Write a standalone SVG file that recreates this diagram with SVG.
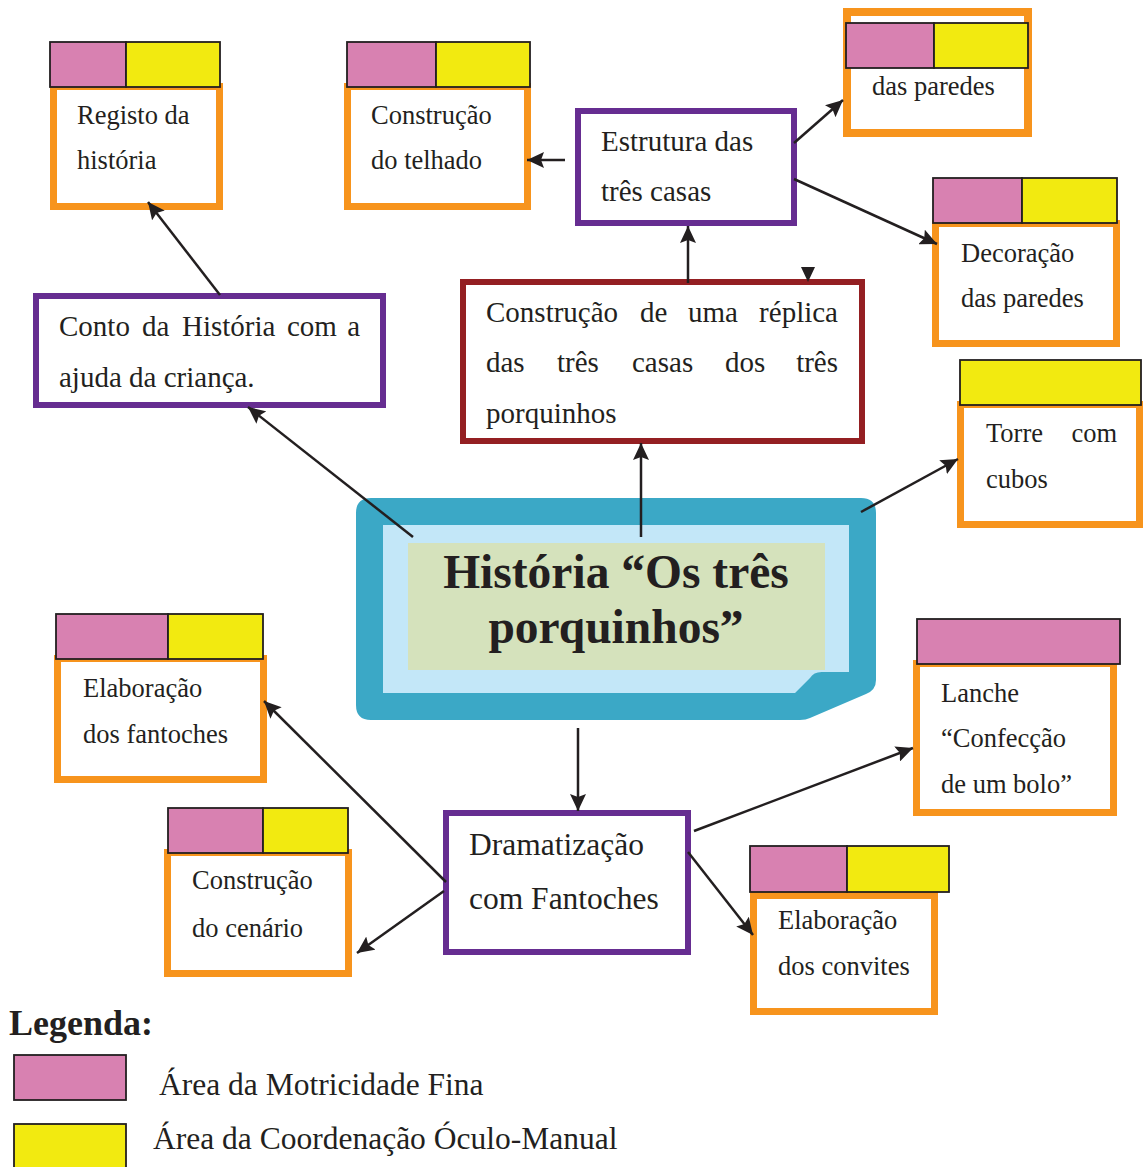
<svg xmlns="http://www.w3.org/2000/svg" width="1143" height="1167" viewBox="0 0 1143 1167">
<defs>
<style>
.t{font-family:"Liberation Serif","Times New Roman",serif;fill:#231F20;}
.s26{font-size:26.5px;}
.s29{font-size:29px;}
.s31{font-size:31.5px;}
.org{fill:#FFFFFF;stroke:#F7941D;stroke-width:7;}
.pur{fill:#FFFFFF;stroke:#662D91;stroke-width:6;}
.red{fill:#FFFFFF;stroke:#941F22;stroke-width:6;}
.pk{fill:#D881B1;stroke:#231F20;stroke-width:1.8;}
.yl{fill:#F2EA10;stroke:#231F20;stroke-width:1.8;}
.ln{stroke:#231F20;stroke-width:2.5;fill:none;marker-end:url(#ah);}
</style>
<marker id="ah" markerUnits="userSpaceOnUse" markerWidth="18" markerHeight="16" refX="17" refY="8" orient="auto">
<path d="M0,0 L17,8 L0,16 L3,8 Z" fill="#231F20"/>
</marker>
</defs>
<rect width="1143" height="1167" fill="#FFFFFF"/>

<g id="registo">
<rect class="org" x="53.5" y="86.5" width="166" height="120"/>
<rect class="pk" x="50" y="42" width="76" height="45"/>
<rect class="yl" x="126" y="42" width="94" height="45"/>
<text class="t s26" x="77" y="124">Registo da</text>
<text class="t s26" x="77" y="169">história</text>
</g>

<g id="telhado">
<rect class="org" x="347.5" y="86.5" width="180" height="120"/>
<rect class="pk" x="347" y="42" width="89" height="45"/>
<rect class="yl" x="436" y="42" width="94" height="45"/>
<text class="t s26" x="371" y="124">Construção</text>
<text class="t s26" x="371" y="169">do telhado</text>
</g>

<g id="paredes-top">
<rect class="org" x="847" y="12" width="181" height="121" style="stroke-width:8"/>
<rect class="pk" x="846" y="23" width="88" height="45"/>
<rect class="yl" x="934" y="23" width="94" height="45"/>
<text class="t s26" x="872" y="95">das paredes</text>
</g>

<g id="estrutura">
<rect class="pur" x="578" y="111" width="216" height="112"/>
<text class="t s29" x="601" y="151">Estrutura das</text>
<text class="t s29" x="601" y="201">três casas</text>
</g>

<g id="decoracao">
<rect class="org" x="935.5" y="223.5" width="181" height="120"/>
<rect class="pk" x="933" y="178" width="89" height="45"/>
<rect class="yl" x="1022" y="178" width="95" height="45"/>
<text class="t s26" x="961" y="262">Decoração</text>
<text class="t s26" x="961" y="307">das paredes</text>
</g>

<g id="conto">
<rect class="pur" x="36" y="296" width="347" height="109"/>
<text class="t s29" y="336"><tspan x="59">Conto</tspan><tspan x="142">da</tspan><tspan x="182">História</tspan><tspan x="287">com</tspan></text>
<text class="t s29" x="360" y="336" text-anchor="end">a</text>
<text class="t s29" x="59" y="387">ajuda da criança.</text>
</g>

<g id="replica">
<rect class="red" x="463" y="282" width="399" height="159"/>
<text class="t s29" y="322"><tspan x="486">Construção</tspan><tspan x="640">de</tspan><tspan x="688">uma</tspan></text>
<text class="t s29" x="838" y="322" text-anchor="end">réplica</text>
<text class="t s29" y="372"><tspan x="486">das</tspan><tspan x="557">três</tspan><tspan x="632">casas</tspan><tspan x="725">dos</tspan></text>
<text class="t s29" x="838" y="372" text-anchor="end">três</text>
<text class="t s29" x="486" y="423">porquinhos</text>
</g>

<g id="torre">
<rect class="org" x="960.5" y="404.5" width="179" height="120"/>
<rect class="yl" x="960" y="360" width="181" height="45"/>
<text class="t s26" x="986" y="442">Torre</text>
<text class="t s26" x="1117" y="442" text-anchor="end">com</text>
<text class="t s26" x="986" y="488">cubos</text>
</g>

<g id="historia">
<path d="M371,498 H861 Q876,498 876,513 V680 Q876,690 866,694 L810,718 Q806,720 800,720 H371 Q356,720 356,705 V513 Q356,498 371,498 Z" fill="#3BA8C6"/>
<path d="M383,525 H849 V672 H824 Q814,671 810,678 L795,693 H383 Z" fill="#C3E7F8"/>
<rect x="408" y="543" width="417" height="127" fill="#D5E2BC"/>
<text class="t" x="616" y="588" text-anchor="middle" style="font-size:47.5px;font-weight:bold">História “Os três</text>
<text class="t" x="616" y="643" text-anchor="middle" style="font-size:47.5px;font-weight:bold">porquinhos”</text>
</g>

<g id="fantoches">
<rect class="org" x="57.5" y="658.5" width="206" height="121"/>
<rect class="pk" x="56" y="614" width="112" height="45"/>
<rect class="yl" x="168" y="614" width="95" height="45"/>
<text class="t s26" x="83" y="697">Elaboração</text>
<text class="t s26" x="83" y="743">dos fantoches</text>
</g>

<g id="lanche">
<rect class="org" x="916.5" y="663.5" width="197" height="149"/>
<rect class="pk" x="917" y="619" width="203" height="45"/>
<text class="t s26" x="941" y="702">Lanche</text>
<text class="t s26" x="941" y="747">“Confecção</text>
<text class="t s26" x="941" y="793">de um bolo”</text>
</g>

<g id="dramatizacao">
<rect class="pur" x="446" y="813" width="242" height="139"/>
<text class="t s31" x="469" y="855">Dramatização</text>
<text class="t s31" x="469" y="909">com Fantoches</text>
</g>

<g id="cenario">
<rect class="org" x="167.5" y="852.5" width="181" height="121"/>
<rect class="pk" x="168" y="808" width="95" height="45"/>
<rect class="yl" x="263" y="808" width="85" height="45"/>
<text class="t s26" x="192" y="889">Construção</text>
<text class="t s26" x="192" y="937">do cenário</text>
</g>

<g id="convites">
<rect class="org" x="753.5" y="895.5" width="181" height="116"/>
<rect class="pk" x="750" y="846" width="97" height="46"/>
<rect class="yl" x="847" y="846" width="102" height="46"/>
<text class="t s26" x="778" y="929">Elaboração</text>
<text class="t s26" x="778" y="975">dos convites</text>
</g>

<g id="legenda">
<text class="t" x="9" y="1035" style="font-size:36px;font-weight:bold">Legenda:</text>
<rect class="pk" x="14" y="1055" width="112" height="45"/>
<text class="t s31" x="159" y="1095">Área da Motricidade Fina</text>
<rect class="yl" x="14" y="1124" width="112" height="48"/>
<text class="t s31" x="153" y="1149">Área da Coordenação Óculo-Manual</text>
</g>

<g id="connectors">
<line class="ln" x1="220" y1="295" x2="148" y2="202"/>
<line class="ln" x1="565" y1="160" x2="527" y2="160"/>
<line class="ln" x1="688" y1="283" x2="688" y2="226"/>
<line class="ln" x1="794" y1="143" x2="843" y2="100"/>
<line class="ln" x1="794" y1="179" x2="937" y2="244"/>
<line class="ln" x1="413" y1="537" x2="248" y2="407"/>
<line class="ln" x1="641" y1="537" x2="641" y2="443"/>
<line class="ln" x1="861" y1="512" x2="958" y2="459"/>
<line class="ln" x1="578" y1="728" x2="578" y2="811"/>
<line class="ln" x1="694" y1="831" x2="913" y2="748"/>
<line class="ln" x1="688" y1="852" x2="753" y2="935"/>
<line class="ln" x1="446" y1="882" x2="264" y2="701"/>
<line class="ln" x1="444" y1="891" x2="357" y2="953"/>
<polygon points="801,267 815,267 808,282" fill="#231F20"/>
</g>
</svg>
